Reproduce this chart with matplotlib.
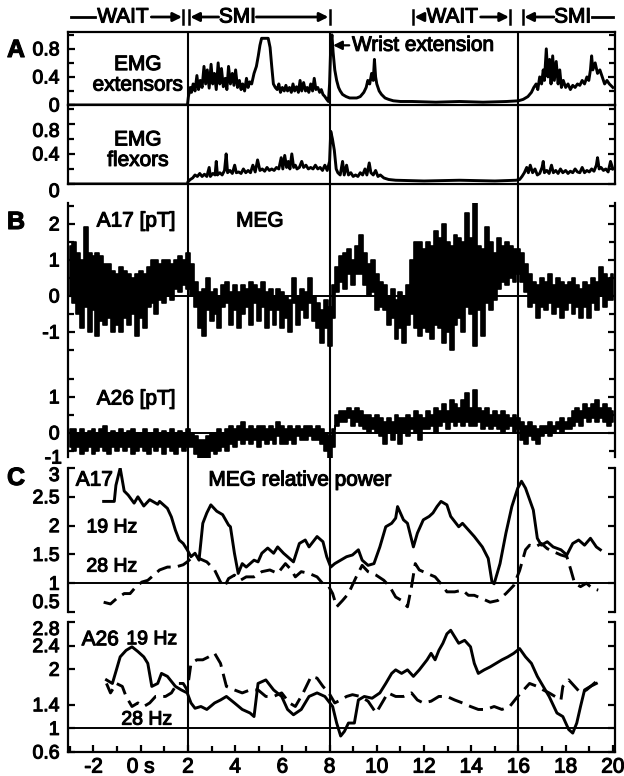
import numpy as np
import matplotlib.pyplot as plt
import matplotlib.patheffects as pe
from matplotlib.lines import Line2D
from matplotlib.patches import FancyArrowPatch
from matplotlib.text import Text
from matplotlib import transforms

plt.rcParams['font.family'] = ['Liberation Sans', 'DejaVu Sans']

# ---------------- data ----------------
# EMG extensors, rectified amplitude
ext_t = [-3.0, 1.98, 2.02, 2.1, 2.15, 2.22, 2.3, 2.38, 2.45, 2.52, 2.6, 2.68, 2.75, 2.82, 2.9, 2.98,
         3.05, 3.12, 3.2, 3.28, 3.35, 3.42, 3.5, 3.58, 3.65, 3.72, 3.8, 3.88, 3.95, 4.02, 4.1, 4.18,
         4.25, 4.32, 4.4, 4.48, 4.55, 4.62, 4.7, 4.8, 4.9, 4.98, 5.05, 5.12, 5.2, 5.3, 5.4, 5.48,
         5.55, 5.62, 5.7, 5.78, 5.85, 5.92, 6.0, 6.08, 6.15, 6.22, 6.3, 6.38, 6.45, 6.52, 6.6, 6.68,
         6.75, 6.82, 6.9, 6.98, 7.05, 7.12, 7.2, 7.28, 7.35, 7.42, 7.5, 7.58, 7.65, 7.72, 7.8, 7.88,
         7.95, 8.0, 8.05, 8.1, 8.15, 8.22, 8.3, 8.38, 8.45, 8.55, 8.7, 8.85, 9.0, 9.15, 9.3, 9.45,
         9.55, 9.62, 9.7, 9.78, 9.85, 9.9, 9.95, 10.0, 10.1, 10.2, 10.35, 10.5, 10.7, 11.0, 11.5,
         12.5, 13.5, 14.5, 15.5, 16.0, 16.2, 16.4, 16.55, 16.65, 16.75, 16.82, 16.9, 16.98, 17.05,
         17.1, 17.18, 17.25, 17.32, 17.38, 17.45, 17.52, 17.6, 17.68, 17.75, 17.82, 17.9, 18.0,
         18.1, 18.2, 18.3, 18.4, 18.5, 18.6, 18.7, 18.8, 18.9, 18.98, 19.05, 19.1, 19.15, 19.25,
         19.35, 19.45, 19.55, 19.65, 19.75, 19.85, 20.0]
ext_v = [0.0, 0.0, 0.12, 0.25, 0.18, 0.3, 0.2, 0.42, 0.22, 0.35, 0.25, 0.55, 0.3, 0.5, 0.24, 0.58,
         0.3, 0.45, 0.22, 0.6, 0.3, 0.52, 0.26, 0.38, 0.22, 0.55, 0.3, 0.45, 0.28, 0.5, 0.25, 0.35,
         0.22, 0.3, 0.2, 0.38, 0.25, 0.33, 0.3, 0.45, 0.55, 0.7, 0.85, 0.95, 0.95, 0.95, 0.95, 0.82,
         0.55, 0.3, 0.25, 0.22, 0.3, 0.18, 0.25, 0.2, 0.28, 0.2, 0.25, 0.18, 0.3, 0.2, 0.26, 0.18,
         0.35, 0.2, 0.32, 0.2, 0.25, 0.18, 0.3, 0.2, 0.38, 0.22, 0.25, 0.18, 0.22, 0.15, 0.12, 0.08,
         0.05, 0.3, 0.85, 1.0, 0.75, 0.5, 0.35, 0.25, 0.2, 0.15, 0.12, 0.1, 0.1, 0.1, 0.12, 0.18,
         0.25, 0.35, 0.3, 0.45, 0.35, 0.65, 0.4, 0.3, 0.2, 0.15, 0.1, 0.08, 0.06, 0.05, 0.05,
         0.04, 0.05, 0.04, 0.05, 0.06, 0.08, 0.12, 0.18, 0.25, 0.3, 0.22, 0.4, 0.3, 0.5,
         0.35, 0.8, 0.4, 0.65, 0.3, 0.7, 0.35, 0.62, 0.3, 0.5, 0.25, 0.35, 0.25,
         0.3, 0.22, 0.28, 0.25, 0.3, 0.28, 0.35, 0.3, 0.4, 0.35, 0.5, 0.7, 0.5, 0.6,
         0.45, 0.5, 0.4, 0.3, 0.35, 0.3, 0.25]

# EMG flexors
flx_t = [-3.0, 1.98, 2.0, 2.1, 2.2, 2.3, 2.4, 2.5, 2.6, 2.7, 2.8, 2.9, 2.95, 3.05, 3.15, 3.2, 3.25,
         3.35, 3.45, 3.55, 3.62, 3.68, 3.78, 3.88, 3.98, 4.05, 4.15, 4.25, 4.35, 4.45, 4.55, 4.65,
         4.75, 4.85, 4.95, 5.05, 5.15, 5.25, 5.35, 5.45, 5.55, 5.65, 5.75, 5.85, 5.95, 6.02, 6.1,
         6.18, 6.25, 6.32, 6.4, 6.48, 6.55, 6.62, 6.72, 6.82, 6.9, 7.0, 7.1, 7.2, 7.3, 7.4, 7.5,
         7.6, 7.7, 7.8, 7.9, 8.0, 8.05, 8.12, 8.2, 8.28, 8.35, 8.45, 8.55, 8.62, 8.72, 8.8, 8.9,
         9.0, 9.1, 9.2, 9.3, 9.4, 9.5, 9.58, 9.68, 9.75, 9.85, 9.95, 10.05, 10.15, 10.3, 10.5,
         10.8, 12.0, 13.5, 15.0, 15.9, 16.05, 16.15, 16.25, 16.35, 16.42, 16.5, 16.6, 16.7, 16.8,
         16.9, 17.0, 17.05, 17.1, 17.2, 17.3, 17.4, 17.48, 17.58, 17.68, 17.78, 17.88, 18.0, 18.1,
         18.2, 18.3, 18.4, 18.5, 18.6, 18.7, 18.8, 18.9, 19.0, 19.1, 19.2, 19.3, 19.35, 19.42,
         19.5, 19.6, 19.7, 19.8, 19.9, 20.0]
flx_v = [0.0, 0.0, 0.03, 0.06, 0.08, 0.12, 0.1, 0.14, 0.1, 0.13, 0.1, 0.22, 0.1, 0.14, 0.12, 0.3, 0.12,
         0.15, 0.12, 0.18, 0.4, 0.15, 0.18, 0.14, 0.25, 0.15, 0.16, 0.14, 0.2, 0.15, 0.18, 0.15,
         0.25, 0.16, 0.32, 0.18, 0.2, 0.17, 0.22, 0.18, 0.2, 0.18, 0.22, 0.2, 0.35, 0.2, 0.38,
         0.22, 0.3, 0.2, 0.4, 0.22, 0.25, 0.2, 0.22, 0.3, 0.22, 0.25, 0.2, 0.22, 0.2, 0.25, 0.2,
         0.22, 0.18, 0.25, 0.18, 0.3, 0.7, 0.6, 0.45, 0.2, 0.15, 0.12, 0.3, 0.12, 0.25, 0.12, 0.15,
         0.1, 0.12, 0.1, 0.15, 0.12, 0.2, 0.12, 0.28, 0.15, 0.12, 0.18, 0.1, 0.12, 0.08, 0.06,
         0.05, 0.04, 0.05, 0.04, 0.05, 0.06, 0.1, 0.15, 0.22, 0.15, 0.25, 0.15, 0.2, 0.12,
         0.14, 0.22, 0.3, 0.15, 0.18, 0.14, 0.25, 0.15, 0.18, 0.14, 0.2, 0.15, 0.18, 0.14,
         0.17, 0.15, 0.2, 0.16, 0.15, 0.22, 0.15, 0.18, 0.16, 0.2, 0.17, 0.25, 0.35, 0.2,
         0.22, 0.18, 0.2, 0.16, 0.3, 0.2]

# MEG signals [pT]: upper and lower extent of the trace in bins of 1/6 s from -3 s to 20 s
meg_t0 = -3.0
meg_dt = 1 / 6
a17_hi = [1.4,
          1.5, 1.2, 1.0, 1.9, 1.2, 1.1, 1.2, 1.1, 0.9, 0.9, 0.7, 0.6,
          0.8, 0.7, 0.6, 0.5, 0.6, 0.7, 0.6, 0.8, 1.0, 1.0, 0.9, 1.0,
          1.0, 0.9, 1.0, 1.1, 1.0, 1.2, 0.9, 0.4, 0.1, 0.2, 0.5, 0.1,
          0.2, 0.0, 0.3, 0.4, 0.1, 0.3, 0.1, 0.3, 0.2, 0.4, 0.3, 0.2,
          0.4, 0.1, 0.2, 0.0, 0.2, 0.1, 0.0, -0.1, 0.5, 0.0, 0.2, 0.1,
          0.5, 0.0, -0.2, -0.4, -0.1, -0.3, 0.3, 0.8, 1.1, 1.2, 1.3, 1.0,
          1.4, 1.7, 1.2, 0.9, 1.0, 0.6, 0.4, 0.3, 0.0, 0.2, -0.1, 0.1,
          0.0, 0.3, 1.0, 1.5, 1.5, 1.3, 1.5, 1.4, 1.8, 1.6, 2.0, 1.5,
          1.4, 1.7, 1.6, 1.5, 2.3, 1.6, 2.6, 1.4, 1.3, 1.9, 1.5, 1.2,
          1.6, 1.4, 1.5, 1.4, 1.3, 1.3, 1.2, 0.9, 0.6, 0.4, 0.3, 0.5,
          0.4, 0.6, 0.3, 0.5, 0.4, 0.3, 0.4, 0.5, 0.3, 0.2, 0.4, 0.3,
          0.5, 0.4, 0.8, 0.6, 0.5, 0.6]
a17_lo = [0.0,
          -0.2, -0.5, -0.9, -0.3, -1.0, -0.4, -1.1, -0.7, -0.8, -0.6, -1.0, -0.8,
          -1.0, -0.6, -0.8, -0.5, -1.1, -0.6, -0.9, -0.3, -0.2, -0.5, -0.1, -0.2,
          0.0, -0.1, 0.2, 0.1, 0.3, 0.2, 0.0, -0.3, -0.9, -1.1, -0.4, -0.7,
          -0.5, -0.9, -0.3, -0.2, -0.8, -0.4, -0.9, -0.5, -0.3, -0.8, -0.2, -0.7,
          -0.3, -0.9, -0.4, -0.8, -0.4, -0.9, -0.6, -1.0, -0.2, -0.8, -0.4, -0.6,
          -0.2, -0.7, -0.9, -1.3, -0.9, -1.4, -0.6, 0.1, 0.4, 0.2, 0.6, 0.3,
          0.6, 0.6, 0.3, 0.0, 0.1, -0.4, -0.3, -0.4, -0.8, -0.6, -1.2, -0.9,
          -1.3, -0.8, -0.5, -0.9, -1.1, -0.9, -1.0, -1.2, -0.8, -0.9, -1.3, -1.0,
          -1.5, -0.8, -0.6, -1.0, -0.3, -0.5, -1.4, -0.4, -1.1, -0.2, -0.4, -0.1,
          0.2, 0.4, 0.3, 0.5, 0.4, 0.6, 0.4, 0.1, -0.3, -0.2, -0.6, -0.3,
          -0.4, -0.2, -0.5, -0.3, -0.6, -0.4, -0.2, -0.5, -0.3, -0.6, -0.3, -0.6,
          -0.2, -0.4, 0.0, -0.3, -0.1, -0.1]
a26_hi = [0.1,
          0.1, 0.0, 0.1, 0.0, 0.05, 0.1, 0.0, 0.1, 0.2, 0.0, 0.05, 0.0,
          0.1, 0.0, 0.05, 0.1, 0.0, 0.0, 0.1, 0.0, 0.0, 0.1, 0.0, 0.05,
          0.0, 0.1, 0.0, 0.05, 0.0, 0.1, 0.0, -0.1, -0.2, -0.2, -0.1, 0.0,
          0.0, 0.1, 0.0, 0.1, 0.2, 0.1, 0.2, 0.3, 0.1, 0.2, 0.1, 0.2,
          0.2, 0.1, 0.2, 0.1, 0.3, 0.2, 0.1, 0.2, 0.1, 0.2, 0.1, 0.2,
          0.2, 0.1, 0.2, 0.1, 0.0, -0.1, 0.1, 0.5, 0.6, 0.6, 0.7, 0.6,
          0.7, 0.6, 0.5, 0.5, 0.4, 0.5, 0.4, 0.3, 0.4, 0.3, 0.5, 0.4,
          0.4, 0.5, 0.4, 0.6, 0.5, 0.4, 0.6, 0.5, 0.7, 0.6, 0.8, 0.6,
          0.9, 0.8, 0.7, 0.9, 1.1, 0.7, 1.2, 0.7, 0.6, 0.7, 0.5, 0.6,
          0.5, 0.6, 0.5, 0.4, 0.5, 0.4, 0.3, 0.2, 0.3, 0.2, 0.1, 0.2,
          0.2, 0.3, 0.2, 0.3, 0.4, 0.3, 0.4, 0.6, 0.7, 0.6, 0.8, 0.7,
          0.8, 0.9, 0.7, 0.8, 0.7, 0.6]
a26_lo = [-0.4,
          -0.5, -0.4, -0.6, -0.5, -0.4, -0.6, -0.5, -0.4, -0.5, -0.6, -0.4, -0.5,
          -0.4, -0.5, -0.4, -0.6, -0.5, -0.4, -0.5, -0.6, -0.4, -0.5, -0.4, -0.6,
          -0.4, -0.5, -0.6, -0.4, -0.5, -0.4, -0.4, -0.6, -0.7, -0.8, -0.7, -0.5,
          -0.6, -0.5, -0.4, -0.5, -0.3, -0.4, -0.2, -0.3, -0.2, -0.3, -0.2, -0.4,
          -0.2, -0.3, -0.2, -0.3, -0.1, -0.3, -0.3, -0.2, -0.3, -0.1, -0.2, -0.2,
          -0.1, -0.2, -0.2, -0.3, -0.5, -0.7, -0.4, 0.2, 0.3, 0.3, 0.4, 0.2,
          0.3, 0.2, 0.1, 0.0, 0.1, 0.0, -0.1, -0.3, 0.0, -0.2, 0.0, -0.3,
          0.0, -0.1, 0.1, 0.0, -0.2, 0.1, 0.1, 0.2, 0.0, 0.2, 0.3, 0.1,
          0.3, 0.2, 0.3, 0.2, 0.3, 0.2, 0.2, 0.3, 0.1, 0.2, 0.1, 0.2,
          0.1, 0.0, 0.1, 0.2, 0.0, 0.1, -0.2, -0.3, -0.1, -0.2, -0.3, -0.1,
          0.0, -0.1, 0.0, 0.1, 0.0, 0.1, 0.1, 0.2, 0.3, 0.2, 0.4, 0.3,
          0.4, 0.3, 0.4, 0.3, 0.2, 0.3]

# MEG relative power, channel A17
a17_19_t = [-1.57, -1.12, -1.05, -0.87, -0.7, -0.53, -0.28, -0.12, 0.13, 0.38, 0.72, 0.8, 1.13,
            1.3, 1.47, 1.63, 1.8, 1.97, 2.13, 2.3, 2.47, 2.63, 2.8, 2.97, 3.22, 3.47, 3.72, 3.8,
            3.97, 4.13, 4.3, 4.47, 4.8, 4.97, 5.13, 5.38, 5.63, 5.8, 6.05, 6.47, 6.72, 6.97, 7.13,
            7.47, 7.72, 7.88, 8.05, 8.22, 8.47, 8.72, 8.97, 9.22, 9.38, 9.63, 9.88, 10.13, 10.38,
            10.63, 10.8, 10.88, 11.13, 11.3, 11.55, 11.72, 11.97, 12.22, 12.38, 12.55, 12.72,
            12.97, 13.13, 13.47, 13.63, 14.13, 14.47, 14.72, 14.88, 14.97, 15.22, 15.47, 15.72,
            15.97, 16.13, 16.3, 16.63, 16.8, 16.97, 17.22, 17.47, 17.8, 18.05, 18.3, 18.55, 18.8,
            19.05, 19.3, 19.47]
a17_19_v = [2.42, 2.42, 2.7, 3.0, 2.6, 2.53, 2.39, 2.5, 2.34, 2.45, 2.37, 2.42, 2.3,
            2.15, 1.92, 1.75, 1.69, 1.58, 1.46, 1.52, 1.4, 2.04, 2.22, 2.36, 2.25, 2.19, 2.01, 1.98,
            1.52, 1.17, 1.34, 1.28, 1.4, 1.37, 1.52, 1.61, 1.52, 1.63, 1.52, 1.37, 1.69, 1.75, 1.63,
            1.81, 1.72, 1.46, 1.28, 1.34, 1.4, 1.46, 1.49, 1.58, 1.4, 1.31, 1.34, 1.63, 1.98,
            2.04, 2.13, 2.33, 2.1, 2.04, 1.63, 1.87, 2.1, 2.16, 2.22, 2.33, 2.42,
            2.36, 2.16, 1.98, 2.04, 1.81, 1.63, 1.43, 1.02, 0.99, 1.34, 1.87, 2.33,
            2.65, 2.77, 2.65, 2.27, 1.78, 1.66, 1.72, 1.63, 1.58, 1.49, 1.69, 1.75, 1.66,
            1.78, 1.63, 1.58]
a17_28_t = [-1.57, -1.28, -1.03, -0.7, -0.45, -0.2, 0.05, 0.3, 0.55, 0.8, 1.13, 1.47, 1.8, 1.97,
            2.13, 2.47, 2.8, 3.13, 3.38, 3.55, 3.72, 3.97, 4.22, 4.47, 4.8, 5.13, 5.47, 5.8, 6.13,
            6.38, 6.55, 6.8, 7.13, 7.47, 7.72, 7.97, 8.13, 8.3, 8.55, 8.8, 9.13, 9.38, 9.63, 9.97,
            10.3, 10.55, 10.8, 11.05, 11.3, 11.47, 11.63, 11.8, 12.13, 12.47, 12.72, 12.97, 13.3,
            13.63, 13.88, 14.13, 14.47, 14.8, 15.13, 15.47, 15.8, 16.05, 16.3, 16.47, 16.72, 16.97,
            17.22, 17.47, 17.8, 18.05, 18.22, 18.38, 18.63, 18.88, 19.13, 19.38]
a17_28_v = [0.67, 0.64, 0.73, 0.82, 0.82, 0.94, 1.02, 1.05, 1.14, 1.23, 1.28, 1.28, 1.32, 1.37,
            1.43, 1.43, 1.37, 1.23, 1.02, 0.94, 1.08, 1.14, 1.05, 1.11, 1.11, 1.2, 1.23, 1.17, 1.34,
            1.23, 1.11, 1.2, 1.17, 1.11, 0.99, 0.94, 0.82, 0.59, 0.7, 0.82, 1.11, 1.31, 1.2, 1.14,
            1.05, 0.94, 0.76, 0.7, 0.59, 0.94, 1.34, 1.23, 1.17, 1.11, 0.99, 0.85, 0.85,
            0.88, 0.79, 0.79, 0.73, 0.67, 0.7, 0.82, 0.96, 1.22, 1.58, 1.66, 1.63, 1.69,
            1.6, 1.55, 1.49, 1.46, 1.23, 1.0, 0.94, 1.0, 0.91, 0.88]

# MEG relative power, channel A26
a26_19_t = [-1.45, -1.2, -1.03, -0.87, -0.62, -0.37, -0.12, 0.13, 0.3, 0.47, 0.72, 0.88, 1.13,
            1.47, 1.72, 1.97, 2.13, 2.3, 2.55, 2.8, 3.13, 3.38, 3.63, 3.97, 4.3, 4.63, 4.8, 4.97,
            5.3, 5.63, 5.97, 6.22, 6.47, 6.8, 7.13, 7.47, 7.8, 8.13, 8.3, 8.47, 8.63, 8.8, 9.05,
            9.22, 9.47, 9.8, 10.13, 10.38, 10.63, 10.8, 11.05, 11.3, 11.55, 11.8, 12.13, 12.3,
            12.47, 12.63, 12.8, 12.97, 13.13, 13.3, 13.47, 13.72, 13.97, 14.13, 14.3, 14.55, 14.8,
            15.05, 15.3, 15.55, 15.8, 16.05, 16.3, 16.55, 16.8, 17.05, 17.3, 17.63, 17.88, 18.13,
            18.3, 18.47, 18.63, 18.8, 19.05, 19.3]
a26_19_v = [1.82, 1.76, 1.99, 2.21, 2.32, 2.38, 2.3, 2.21, 2.1, 1.71, 1.76, 1.93, 1.88,
            1.71, 1.65, 1.6, 1.43, 1.34, 1.37, 1.32, 1.43, 1.48, 1.54, 1.43, 1.32, 1.26, 1.2, 1.76,
            1.82, 1.65, 1.54, 1.32, 1.23, 1.32, 1.54, 1.6, 1.54, 1.37, 1.09, 0.87, 0.95, 1.09, 1.09,
            1.48, 1.54, 1.51, 1.6, 1.76, 1.93, 1.99, 1.93, 1.99, 1.88, 1.99, 2.16, 2.27,
            2.16, 2.32, 2.44, 2.6, 2.66, 2.55, 2.44, 2.49, 2.38, 2.1, 1.93, 1.99, 2.04,
            2.1, 2.16, 2.21, 2.27, 2.35, 2.21, 2.1, 1.88, 1.71, 1.54, 1.26, 1.2, 0.98,
            0.92, 1.09, 1.37, 1.65, 1.71, 1.76]
a26_28_t = [-1.45, -1.28, -1.03, -0.78, -0.62, -0.37, -0.12, 0.13, 0.38, 0.63, 1.05, 1.3, 1.55,
            1.8, 1.97, 2.13, 2.38, 2.63, 2.88, 3.13, 3.38, 3.63, 3.97, 4.3, 4.63, 4.97, 5.3, 5.63,
            5.97, 6.3, 6.55, 6.88, 7.22, 7.47, 7.72, 7.97, 8.22, 8.47, 8.72, 8.97, 9.3, 9.63, 9.97,
            10.22, 10.47, 10.8, 11.13, 11.47, 11.72, 11.97, 12.3, 12.63, 12.97, 13.3, 13.63, 13.97,
            14.3, 14.63, 14.97, 15.3, 15.63, 15.97, 16.22, 16.47, 16.8, 17.05, 17.3, 17.55, 17.8,
            17.88, 18.13, 18.38, 18.63, 18.88, 19.38]
a26_28_v = [1.76, 1.6, 1.76, 1.71, 1.54, 1.37, 1.43, 1.37, 1.43, 1.54, 1.54, 1.6, 1.76,
            1.76, 1.65, 2.1, 2.16, 2.16, 2.21, 2.27, 2.1, 1.71, 1.65, 1.6, 1.65, 1.65, 1.54, 1.54,
            1.6, 1.43, 1.37, 1.6, 1.88, 1.85, 1.71, 1.6, 1.43, 1.48, 1.54, 1.57, 1.54, 1.46, 1.26,
            1.43, 1.6, 1.54, 1.54, 1.6, 1.48, 1.43, 1.46, 1.54, 1.54, 1.48, 1.43, 1.37,
            1.32, 1.32, 1.37, 1.32, 1.37, 1.54, 1.65, 1.76, 1.71, 1.65, 1.6, 1.54, 1.48,
            1.71, 1.82, 1.71, 1.6, 1.65, 1.82]

x_ticks = [-2, 0, 2, 4, 6, 8, 10, 12, 14, 16, 18, 20]
x_labels = ['-2', '0 s', '2', '4', '6', '8', '10', '12', '14', '16', '18', '20']
event_lines = [2, 8, 16]

# ---------------- figure ----------------
W, H = 624, 776
fig = plt.figure(figsize=(W / 100, H / 100), dpi=100)
XL = (-3.08, 20.09)
LW = 2.1
TXT = 15


def box(top, bot):
    return [68 / W, 1 - bot / H, (615 - 68) / W, (bot - top) / H]


def prep(ax, ylim):
    ax.set_xlim(*XL)
    ax.set_ylim(*ylim)
    ax.patch.set_alpha(0)
    for s in ax.spines.values():
        s.set_linewidth(1.6)
    ax.tick_params(axis='y', which='both', direction='in', left=True, right=True,
                   labelsize=14, pad=6, width=1.6)
    ax.tick_params(axis='y', which='major', length=5)
    ax.tick_params(axis='y', which='minor', length=4)
    ax.tick_params(axis='x', which='both', bottom=False, labelbottom=False)


def nudge(ax, label, va):
    for tl in ax.get_yticklabels():
        if tl.get_text() == label:
            tl.set_verticalalignment(va)


# panel A
ax_e = fig.add_axes(box(32, 105))
prep(ax_e, (0, 1.04))
ax_e.plot(ext_t, ext_v, color='k', lw=LW)
ax_e.set_yticks([0, 0.4, 0.8], ['0', '0.4', '0.8'])
ax_e.set_yticks([0.2, 0.6, 1.0], minor=True)
ax_e.spines['bottom'].set_visible(False)
ax_e.text(-0.12, 0.43, 'EMG\nextensors', ha='center', va='center', fontsize=TXT, linespacing=1.1)
ax_e.annotate('Wrist extension', xy=(8.15, 0.85), xytext=(8.95, 0.85), fontsize=TXT,
              va='center', arrowprops=dict(arrowstyle='-|>', color='k', lw=1.6,
                                           shrinkA=0, shrinkB=0, mutation_scale=13))

ax_f = fig.add_axes(box(105, 184))
prep(ax_f, (0, 1.05))
ax_f.plot(flx_t, flx_v, color='k', lw=LW)
ax_f.set_yticks([0, 0.4, 0.8], ['0', '0.4', '0.8'])
ax_f.set_yticks([0.2, 0.6, 1.0], minor=True)
ax_f.text(-0.12, 0.45, 'EMG\nflexors', ha='center', va='center', fontsize=TXT, linespacing=1.1)
nudge(ax_f, '0.8', 'top')
nudge(ax_f, '0', 'top')

# panel B
OFF = 3.8
ax_b = fig.add_axes(box(203, 457))
prep(ax_b, (-4.47, 2.58))
for k in ['top', 'bottom']:
    ax_b.spines[k].set_visible(False)
t_meg = meg_t0 + meg_dt * np.arange(len(a17_hi))
ax_b.fill_between(t_meg, a17_lo, a17_hi, step='mid', color='k', lw=1.2)
ax_b.fill_between(t_meg, np.array(a26_lo) - OFF, np.array(a26_hi) - OFF, step='mid',
                  color='k', lw=1.2)
ax_b.axhline(0, color='k', lw=1.4)
ax_b.axhline(-OFF, color='k', lw=1.4)
ax_b.set_yticks([2, 1, 0, -1, 1 - OFF, -OFF], ['2', '1', '0', '-1', '1', '0'])
ax_b.set_yticks(list(np.arange(-1.5, 2.6, 0.5)) + list(np.arange(-4.3, -2.2, 0.5)), minor=True)
ax_b.text(-0.2, 2.08, 'A17 [pT]', ha='center', va='center', fontsize=TXT)
ax_b.text(5.05, 2.08, 'MEG', ha='center', va='center', fontsize=TXT)
ax_b.text(-0.2, -2.86, 'A26 [pT]', ha='center', va='center', fontsize=TXT)
fig.text(62 / W, 1 - 459 / H, '-1', ha='right', va='center', fontsize=14)

# panel C, A17
ax_c1 = fig.add_axes(box(468, 612))
prep(ax_c1, (0.5, 3.0))
for k in ['top', 'bottom']:
    ax_c1.spines[k].set_visible(False)
ax_c1.plot(a17_19_t, a17_19_v, color='k', lw=LW)
ax_c1.plot(a17_28_t, a17_28_v, color='k', lw=LW, dashes=(5, 2.5))
ax_c1.axhline(1, color='k', lw=1.4)
ax_c1.set_yticks([3, 2.5, 2, 1.5, 1, 0.5], ['3', '2.5', '2', '1.5', '1', '0.5'])
nudge(ax_c1, '3', 'top')
nudge(ax_c1, '0.5', 'bottom')
ax_c1.text(-2.75, 2.79, 'A17', ha='left', va='center', fontsize=TXT)
ax_c1.text(6.75, 2.79, 'MEG relative power', ha='center', va='center', fontsize=TXT)
ax_c1.text(-1.22, 1.96, '19 Hz', ha='center', va='center', fontsize=14)
ax_c1.text(-1.22, 1.28, '28 Hz', ha='center', va='center', fontsize=14)

# panel C, A26
ax_c2 = fig.add_axes(box(622, 752))
prep(ax_c2, (0.6, 2.8))
ax_c2.spines['top'].set_visible(False)
ax_c2.plot(a26_19_t, a26_19_v, color='k', lw=LW)
ax_c2.plot(a26_28_t, a26_28_v, color='k', lw=LW, dashes=(5, 2.5))
ax_c2.axhline(1, color='k', lw=1.4)
ax_c2.set_yticks([2.8, 2.4, 2, 1.4, 1, 0.6], ['2.8', '2.4', '2', '1.4', '1', '0.6'])
nudge(ax_c2, '2.8', 'top')
ax_c2.tick_params(axis='x', which='both', bottom=True, labelbottom=True, direction='in',
                  labelsize=15, pad=4, width=1.6)
ax_c2.tick_params(axis='x', which='major', length=5)
ax_c2.tick_params(axis='x', which='minor', length=4)
ax_c2.set_xticks(x_ticks, x_labels)
ax_c2.set_xticks(np.arange(-3, 20.5, 1), minor=True)
ax_c2.text(-2.5, 2.5, 'A26', ha='left', va='center', fontsize=TXT)
ax_c2.text(0.47, 2.5, '19 Hz', ha='center', va='center', fontsize=14)
ax_c2.text(0.26, 1.14, '28 Hz', ha='center', va='center', fontsize=14)

# event lines through all panels
ax_ov = fig.add_axes(box(32, 752))
ax_ov.set_xlim(*XL)
ax_ov.axis('off')
for x in event_lines:
    ax_ov.axvline(x, color='k', lw=1.5)

# panel letters
fig.text(7 / W, 1 - 50 / H, 'A', fontsize=18, fontweight='bold', va='center')
fig.text(7 / W, 1 - 222 / H, 'B', fontsize=18, fontweight='bold', va='center')
fig.text(7 / W, 1 - 478 / H, 'C', fontsize=18, fontweight='bold', va='center')

# task phases on top
tr = transforms.blended_transform_factory(ax_e.transData, fig.transFigure)
ytop = 1 - 17 / H
arrow_kw = dict(arrowstyle='-|>', color='k', lw=2, shrinkA=0, shrinkB=0, mutation_scale=13)


def bar(x):
    fig.add_artist(Line2D([x, x], [ytop - 0.009, ytop + 0.009], transform=tr, color='k', lw=1.8))


def phase(x0, x1, label, xc, half, left_head, right_head):
    fig.text(xc, ytop, label, transform=tr, ha='center', va='center', fontsize=TXT)
    if left_head:
        fig.add_artist(FancyArrowPatch((xc - half, ytop), (x0, ytop), transform=tr, **arrow_kw))
        bar(x0 - 0.05)
    else:
        fig.add_artist(Line2D([x0, xc - half], [ytop, ytop], transform=tr, color='k', lw=2))
    if right_head:
        fig.add_artist(FancyArrowPatch((xc + half, ytop), (x1, ytop), transform=tr, **arrow_kw))
        bar(x1 + 0.05)
    else:
        fig.add_artist(Line2D([xc + half, x1], [ytop, ytop], transform=tr, color='k', lw=2))


phase(-2.95, 1.75, 'WAIT', -0.75, 1.2, False, True)
phase(2.1, 7.95, 'SMI', 4.1, 0.8, True, True)
phase(11.6, 15.6, 'WAIT', 13.2, 1.2, True, True)
phase(16.25, 20.0, 'SMI', 18.3, 0.8, True, False)

# the scanned original has heavy type: thicken all text slightly
heavy = [pe.withStroke(linewidth=0.8, foreground='k')]
for t in fig.findobj(Text):
    t.set_path_effects(heavy)

fig.savefig('out.png', dpi=100)
